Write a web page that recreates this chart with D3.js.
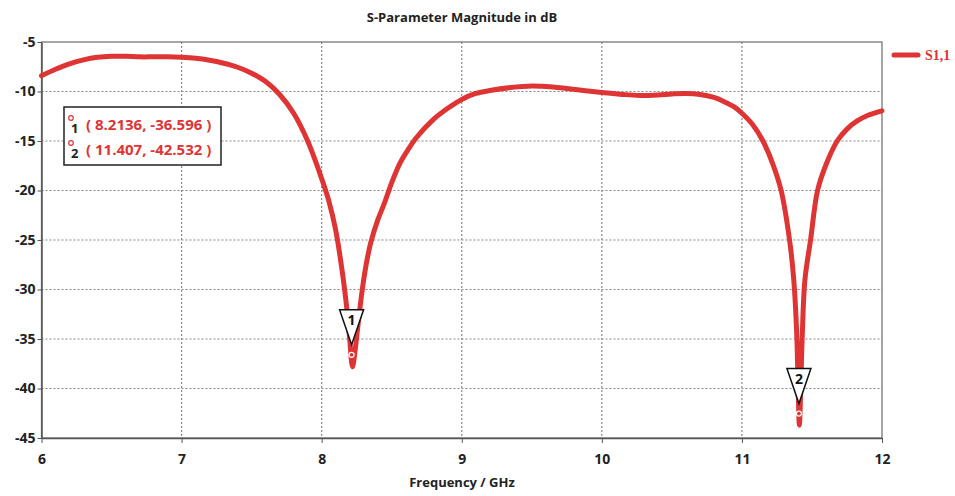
<!DOCTYPE html>
<html>
<head>
<meta charset="utf-8">
<script src="https://cdn.jsdelivr.net/npm/d3@7"></script>
<style>
  body { margin: 0; background: #fff; }
  svg { display: block; }
  .tick text { font-family: "Open Sans", sans-serif; font-weight: bold; font-size: 14px; fill: #222; }
</style>
</head>
<body>
<div class="graph"></div>
<script>
// S1,1 trace (GHz, dB)
var freq = [6.0, 6.1, 6.2, 6.3, 6.4, 6.5, 6.6, 6.7, 6.8, 6.9, 7.0, 7.1, 7.2, 7.3, 7.4, 7.5, 7.6, 7.7, 7.8, 7.9,
  8.0, 8.05, 8.1, 8.15, 8.18, 8.2, 8.22, 8.24, 8.26, 8.29, 8.32, 8.35, 8.4, 8.45, 8.5, 8.56, 8.62, 8.68, 8.8, 8.9,
  9.0, 9.1, 9.2, 9.35, 9.5, 9.65, 9.75, 9.9, 10.0, 10.15, 10.27, 10.4, 10.5, 10.6, 10.7, 10.8, 10.87, 10.95,
  11.0, 11.08, 11.15, 11.22, 11.28, 11.34, 11.37, 11.39, 11.4, 11.41, 11.42, 11.43, 11.45, 11.49, 11.54,
  11.6, 11.68, 11.75, 11.82, 11.9, 12.0];
var s11 = [-8.4, -7.75, -7.2, -6.8, -6.55, -6.45, -6.45, -6.5, -6.5, -6.5, -6.55, -6.65, -6.85, -7.15, -7.55, -8.15, -9.0, -10.3, -12.2, -15.0,
  -18.8, -21.0, -24.0, -28.5, -32.0, -35.0, -37.8, -36.0, -33.5, -30.0, -27.3, -25.3, -23.0, -21.2, -19.2, -17.2, -15.8, -14.6, -12.8, -11.7,
  -10.8, -10.2, -9.9, -9.6, -9.45, -9.55, -9.7, -9.95, -10.1, -10.3, -10.4, -10.35, -10.25, -10.2, -10.3, -10.6, -11.0, -11.6,
  -12.2, -13.4, -15.0, -17.3, -20.0, -25.0, -29.0, -34.0, -39.0, -43.7, -40.0, -35.0, -29.0, -25.0, -20.0,
  -17.4, -15.0, -13.8, -13.0, -12.4, -11.95];

var markerNames = ['1', '2'];
var markerFreq = [8.2136, 11.407];
var markerVal = [-36.596, -42.532];

var xTicks = [6, 7, 8, 9, 10, 11, 12];
var yTicks = [-5, -10, -15, -20, -25, -30, -35, -40, -45];

var size = { width: 955, height: 496, left: 41.5, right: 882, top: 42, bottom: 438 };
var red = '#df3434';

var svg = d3.select('.graph').append('svg')
  .attr('width', size.width)
  .attr('height', size.height);

var x = d3.scaleLinear().domain([6, 12]).range([size.left, size.right]);
var y = d3.scaleLinear().domain([-5, -45]).range([size.top, size.bottom]);

// grid
svg.append('g').selectAll('line').data(xTicks.slice(1, -1)).enter().append('line')
  .attr('x1', function(d) { return x(d); }).attr('x2', function(d) { return x(d); })
  .attr('y1', size.top).attr('y2', size.bottom)
  .attr('stroke', '#888').attr('stroke-width', 1.2).attr('stroke-dasharray', '2,2');
svg.append('g').selectAll('line').data(yTicks.slice(1, -1)).enter().append('line')
  .attr('y1', function(d) { return y(d); }).attr('y2', function(d) { return y(d); })
  .attr('x1', size.left).attr('x2', size.right)
  .attr('stroke', '#888').attr('stroke-width', 1.2).attr('stroke-dasharray', '2,2');

// frame
svg.append('rect')
  .attr('x', size.left).attr('y', size.top)
  .attr('width', size.right - size.left).attr('height', size.bottom - size.top)
  .attr('fill', 'none').attr('stroke', '#777').attr('stroke-width', 1.3);

var xAxis = d3.axisBottom(x).tickValues(xTicks).tickFormat(d3.format('d')).tickSize(5).tickSizeOuter(0);
var yAxis = d3.axisLeft(y).tickValues(yTicks).tickFormat(function(d) { return d; }).tickSize(4).tickSizeOuter(0);

var gx = svg.append('g').attr('transform', 'translate(0,' + size.bottom + ')').call(xAxis);
gx.select('.domain').attr('stroke', '#555').attr('stroke-width', 1.5);
gx.selectAll('.tick line').attr('stroke', '#555');
gx.selectAll('.tick text').attr('dy', '1.3em');

var gy = svg.append('g').attr('transform', 'translate(' + size.left + ',0)').call(yAxis);
gy.select('.domain').attr('stroke', '#555').attr('stroke-width', 1.5);
gy.selectAll('.tick line').attr('stroke', '#555');
gy.selectAll('.tick text').attr('x', -6);

// trace
var pts = freq.map(function(f, i) { return [f, s11[i]]; });
var line = d3.line()
  .x(function(d) { return x(d[0]); })
  .y(function(d) { return y(d[1]); })
  .curve(d3.curveCatmullRom.alpha(0.5));
svg.append('path').datum(pts)
  .attr('d', line)
  .attr('fill', 'none').attr('stroke', red).attr('stroke-width', 5)
  .attr('stroke-linejoin', 'round').attr('stroke-linecap', 'round');

// markers
markerNames.forEach(function(name, i) {
  var mx = x(markerFreq[i]), my = y(markerVal[i]);
  svg.append('circle').attr('cx', mx).attr('cy', my).attr('r', 2.5)
    .attr('fill', 'none').attr('stroke', '#fff').attr('stroke-width', 1.2);
  var ty = my - 10;
  svg.append('path')
    .attr('d', 'M' + (mx - 12) + ',' + (ty - 35) + 'L' + (mx + 12) + ',' + (ty - 35) + 'L' + mx + ',' + ty + 'Z')
    .attr('fill', '#fff').attr('stroke', '#111').attr('stroke-width', 1.5);
  svg.append('text').attr('x', mx).attr('y', ty - 20)
    .attr('text-anchor', 'middle')
    .style('font-family', '"Open Sans", sans-serif').style('font-weight', 'bold').style('font-size', '14px')
    .attr('fill', '#111').text(name);
});

// marker readout box
svg.append('rect').attr('x', 64).attr('y', 107).attr('width', 157).attr('height', 58)
  .attr('fill', '#fff').attr('stroke', '#222').attr('stroke-width', 1.5);
markerNames.forEach(function(name, i) {
  var by = 130 + i * 25;
  svg.append('circle').attr('cx', 71).attr('cy', by - 12).attr('r', 2.3)
    .attr('fill', 'none').attr('stroke', red).attr('stroke-width', 1.2);
  svg.append('text').attr('x', 71).attr('y', by + 3)
    .style('font-family', '"Open Sans", sans-serif').style('font-size', '13px').style('font-weight', 'bold')
    .attr('fill', '#222').text(name);
  svg.append('text').attr('x', 86).attr('y', by)
    .style('font-family', '"Open Sans", sans-serif').style('font-size', '15px').style('font-weight', 'bold')
    .attr('fill', red)
    .text('( ' + markerFreq[i] + ', ' + markerVal[i] + ' )');
});

// legend
svg.append('line').attr('x1', 894).attr('x2', 918).attr('y1', 55).attr('y2', 55)
  .attr('stroke', red).attr('stroke-width', 5).attr('stroke-linecap', 'round');
svg.append('text').attr('x', 925).attr('y', 60)
  .style('font-family', '"Liberation Serif", serif').style('font-weight', 'bold').style('font-size', '14px')
  .attr('fill', red).text('S1,1');

// titles
svg.append('text').attr('x', 462).attr('y', 22).attr('text-anchor', 'middle')
  .style('font-family', '"Open Sans", sans-serif').style('font-weight', 'bold').style('font-size', '13px')
  .attr('fill', '#222').text('S-Parameter Magnitude in dB');
svg.append('text').attr('x', 462).attr('y', 487).attr('text-anchor', 'middle')
  .style('font-family', '"Open Sans", sans-serif').style('font-weight', 'bold').style('font-size', '13px')
  .attr('fill', '#222').text('Frequency / GHz');
</script>
</body>
</html>
